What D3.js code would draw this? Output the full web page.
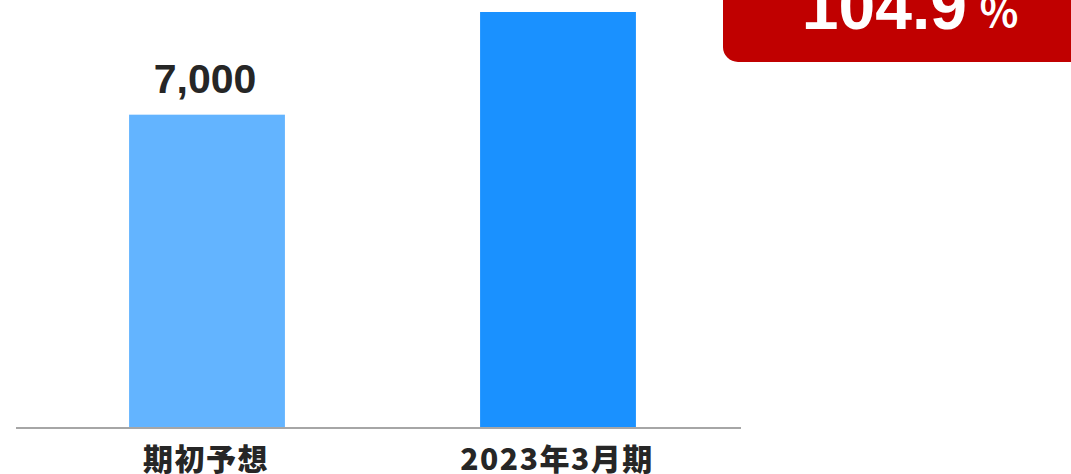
<!DOCTYPE html>
<html><head><meta charset="utf-8">
<script src="https://cdn.jsdelivr.net/npm/d3@7"></script>
<style>
html,body{margin:0;padding:0;background:#fff;overflow:hidden}
svg{display:block}
</style></head>
<body>
<svg id="chart" width="1071" height="474"></svg>
<script>
const categories = ["期初予想", "2023年3月期"];
const values = [7000, 7343];
const valueLabels = ["7,000", "7,343"];
const barColors = ["#63B4FF", "#1A91FF"];
const ratioLabel = "104.9";
const ratioUnit = "％";

const svg = d3.select("#chart");
const W = 1071, H = 474;
const baseY = 429;

const x = d3.scaleBand().domain(categories).range([31.5, 733.5]).paddingInner(0.556).paddingOuter(0.278);
const y = d3.scaleLinear().domain([5950, 7343]).range([baseY, 12]);

// bars
svg.selectAll("rect.bar").data(categories).enter().append("rect")
  .attr("class","bar")
  .attr("x", d => x(d))
  .attr("width", x.bandwidth())
  .attr("y", (d,i) => y(values[i]))
  .attr("height", (d,i) => baseY - y(values[i]))
  .attr("fill", (d,i) => barColors[i]);

// axis baseline
const xAxis = d3.axisBottom(x).tickSize(0).tickPadding(0);
const ax = svg.append("g").attr("transform", `translate(0,${baseY - 1})`).call(xAxis);
ax.select(".domain").attr("d", "M16,0H741").attr("stroke", "#A6A6A6").attr("stroke-width", 2);
ax.selectAll(".tick text")
  .attr("y", 0).attr("dy", 0)
  .attr("transform", "translate(-1,42)")
  .attr("font-family", "'Noto Sans CJK JP', sans-serif")
  .attr("font-weight", 900)
  .attr("font-size", 30)
  .attr("letter-spacing", 1.5)
  .attr("fill", "#262626");

// value labels (only those within the visible area)
svg.selectAll("text.val").data(categories.filter((d,i) => y(values[i]) - 22 > 40)).enter().append("text")
  .attr("class","val")
  .attr("x", d => x(d) + x.bandwidth()/2 - 2)
  .attr("y", d => y(values[categories.indexOf(d)]) - 22)
  .attr("text-anchor", "middle")
  .attr("font-family", "'Liberation Sans', Arial, sans-serif")
  .attr("font-weight", "bold")
  .attr("font-size", 41)
  .attr("fill", "#262626")
  .text(d => valueLabels[categories.indexOf(d)]);

// red ratio box
svg.append("rect")
  .attr("x", 723).attr("y", -40)
  .attr("width", 400).attr("height", 102)
  .attr("rx", 15).attr("ry", 15)
  .attr("fill", "#C00000");
svg.append("text")
  .attr("x", 967).attr("y", 29)
  .attr("text-anchor", "end")
  .attr("font-family", "'Liberation Sans', Arial, sans-serif")
  .attr("font-weight", "bold")
  .attr("font-size", 66)
  .attr("fill", "#fff")
  .text(ratioLabel);
svg.append("text")
  .attr("x", 979).attr("y", 27)
  .attr("font-family", "'Noto Sans CJK JP', sans-serif")
  .attr("font-weight", "bold")
  .attr("font-size", 40)
  .attr("fill", "#fff")
  .text(ratioUnit);
</script>
</body></html>
